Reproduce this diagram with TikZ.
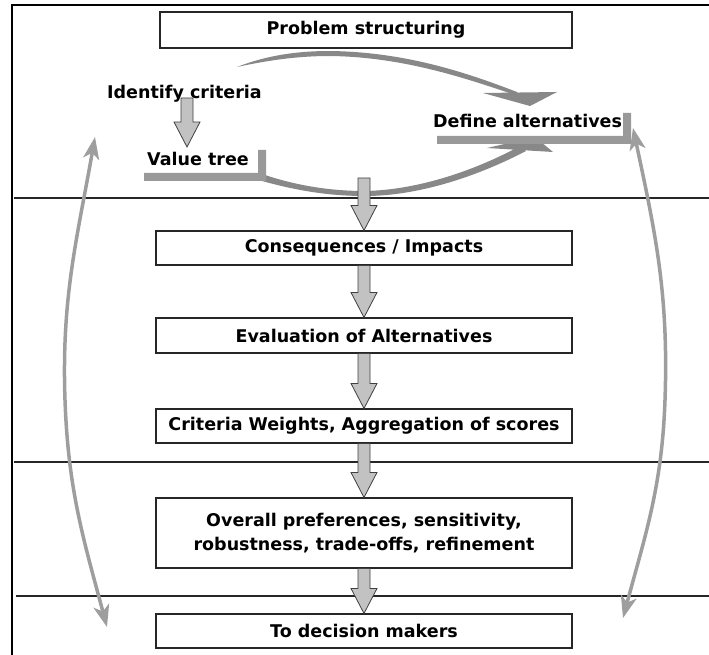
\documentclass[tikz,border=0pt]{standalone}
\usepackage{fontspec}
\setmainfont{DejaVu Sans}
\usetikzlibrary{calc,arrows.meta}

\definecolor{swooshgray}{RGB}{136,136,136}
\definecolor{shadowgray}{RGB}{153,153,153}
\definecolor{arrowfill}{RGB}{194,194,194}
\definecolor{sidegray}{RGB}{158,158,158}

\tikzset{
  stagebox/.style={draw=black!85, line width=1.1pt, fill=white, minimum width=416pt,
    minimum height=34pt, inner sep=0pt, align=center,
    font=\fontsize{17.5}{24}\selectfont\bfseries},
  freetext/.style={inner sep=0pt, anchor=west, font=\fontsize{17.5}{20}\selectfont\bfseries},
  blk/.style={draw=black!75, line width=0.8pt, fill=arrowfill, line join=miter},
  divider/.style={draw=black!85, line width=1.1pt},
  outerline/.style={draw=black, line width=2pt},
  swooshpart/.style={fill=swooshgray, draw=none},
  shadowbar/.style={fill=shadowgray, draw=none},
  feedback/.style={draw=sidegray, line width=3.5pt,
    {Stealth[length=22pt,width=16pt,inset=6pt]}-{Stealth[length=22pt,width=16pt,inset=6pt]}},
}

% block arrow from one anchor down to another
\newcommand{\stagearrow}[2]{%
  \draw[blk] ($(#1)+(-6,0)$) -- ($(#2)+(-6,-25)$) -- ($(#2)+(-13,-25)$) -- (#2)
    -- ($(#2)+(13,-25)$) -- ($(#2)+(6,-25)$) -- ($(#1)+(6,0)$) -- cycle;}

\begin{document}
\begin{tikzpicture}[x=1pt,y=-1pt]
\useasboundingbox (0,0) rectangle (709,655);

% frame and phase separators
\draw[outerline] (12,655) -- (12,5) -- (709,5);
\draw[divider] (14,198) -- (709,198);
\draw[divider] (14,462) -- (709,462);
\draw[divider] (16,596) -- (709,596);

% main stages
\node[stagebox, minimum width=412pt, minimum height=36pt] (ps) at (366,30) {Problem structuring};
\node[stagebox] (ci) at (364,248) {Consequences / Impacts};
\node[stagebox, minimum height=35pt] (ev) at (364,335.5) {Evaluation of Alternatives};
\node[stagebox] (cw) at (364,426) {Criteria Weights, Aggregation of scores};
\node[stagebox, minimum height=70pt] (op) at (364,533) {Overall preferences, sensitivity,\\robustness, trade-offs, refinement};
\node[stagebox] (dm) at (364,631) {To decision makers};

% upper swoosh: criteria towards alternatives
\fill[swooshpart] (237,67) .. controls (265,56) and (295,51) .. (330,51)
  .. controls (405,52) and (465,72) .. (517,92) -- (521,97)
  .. controls (468,79) and (405,57) .. (330,56)
  .. controls (295,56) and (265,61) .. (237,67) -- cycle;
\fill[swooshpart] (483,93) -- (557,92) -- (530,106) -- cycle;

% lower swoosh: value tree towards alternatives
\fill[swooshpart] (262,174) .. controls (300,187) and (335,191) .. (365,191)
  .. controls (420,190) and (478,169) .. (520,146) -- (526,151)
  .. controls (482,174) and (422,196) .. (365,196)
  .. controls (330,196) and (298,191) .. (262,181) -- cycle;
\fill[swooshpart] (487,148) -- (553,152) -- (535,137) -- cycle;

% shadow bars of the two labels
\fill[shadowbar] (144,173) -- (258,173) -- (258,150) -- (266,150) -- (266,181) -- (144,181) -- cycle;
\fill[shadowbar] (437,136) -- (623,136) -- (623,113) -- (631,113) -- (631,144) -- (437,144) -- cycle;

% identify criteria -> value tree
\coordinate (ica) at (187,98);
\coordinate (icb) at (187,147);
\stagearrow{ica}{icb}

\node[freetext] (idc) at (107,94) {Identify criteria};
\node[freetext] (vt) at (147,159) {Value tree};
\node[freetext] (da) at (433,121) {Define alternatives};

% flow between stages
\coordinate (top) at (364,178);
\stagearrow{top}{ci.north}
\stagearrow{ci.south}{ev.north}
\stagearrow{ev.south}{cw.north}
\stagearrow{cw.south}{op.north}
\stagearrow{op.south}{dm.north}

% feedback loops along both sides
\coordinate (lt) at (95,137);
\coordinate (lb) at (107,627);
\coordinate (rt) at (633,128);
\coordinate (rb) at (623,618);
\draw[feedback] (lt) to[out=-100,in=92] (65,400) to[out=-88,in=105] (lb);
\draw[feedback] (rt) to[out=-78,in=88] (665,400) to[out=-92,in=75] (rb);
\end{tikzpicture}
\end{document}
